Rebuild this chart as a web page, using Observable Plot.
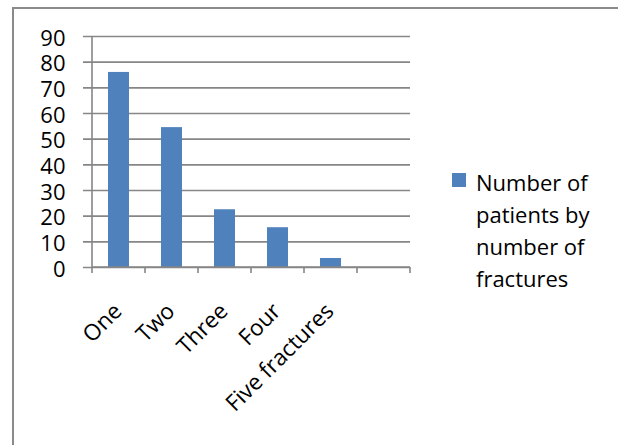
<!DOCTYPE html>
<html><head><meta charset="utf-8">
<script src="https://cdn.jsdelivr.net/npm/d3@7"></script>
<script src="https://cdn.jsdelivr.net/npm/@observablehq/plot@0.6"></script>
<style>
html,body{margin:0;padding:0;background:#fff;overflow:hidden;}
#wrap{position:relative;width:618px;height:445px;font-family:"Open Sans",sans-serif;overflow:hidden;}
#frame{position:absolute;left:12px;top:7px;width:800px;height:600px;border-left:2px solid #8a8a8a;border-top:2px solid #8a8a8a;}
#chart{position:absolute;left:0;top:0;}
#legend{position:absolute;left:452px;top:166px;font-size:22px;line-height:32px;color:#000;}
#legend .sw{position:absolute;left:0;top:7px;width:14px;height:14px;background:#4f81bd;}
#legend .tx{position:absolute;left:24px;top:0;white-space:nowrap;}
</style></head>
<body>
<div id="wrap"><div id="frame"></div><div id="chart"></div>
<div id="legend"><div class="sw"></div><div class="tx" id="legtext"></div></div></div>
<script>
const categories = ["One", "Two", "Three", "Four", "Five fractures", ""];
const patients = [76, 54.5, 22.5, 15.5, 3.5];
const yTicks = [0, 10, 20, 30, 40, 50, 60, 70, 80, 90];
const legendLines = ["Number of", "patients by", "number of", "fractures"];

const data = patients.map((v, i) => ({category: categories[i], value: v}));
const gray = "#868686";
const barColor = "#4f81bd";

document.getElementById("legtext").innerHTML = legendLines.join("<br>");

const axisLines = (index, scales, values, dims) => {
  const x = scales.x, y = scales.y;
  const step = x(categories[1]) - x(categories[0]);
  const xs = categories.map(c => x(c)).concat([x(categories[categories.length - 1]) + step]);
  const y0 = y(0), yTop = y(yTicks[yTicks.length - 1]);
  const g = d3.create("svg:g").attr("stroke", gray).attr("stroke-width", 1.6);
  xs.forEach(px => g.append("line").attr("x1", px).attr("x2", px).attr("y1", y0).attr("y2", y0 + 6));
  g.append("line").attr("x1", xs[0]).attr("x2", xs[0]).attr("y1", yTop).attr("y2", y0);
  g.append("line").attr("x1", xs[0]).attr("x2", xs[xs.length - 1]).attr("y1", y0).attr("y2", y0);
  return g.node();
};

const chart = Plot.plot({
  width: 618,
  height: 445,
  marginLeft: 92,
  marginRight: 208,
  marginTop: 36,
  marginBottom: 178,
  style: {fontFamily: "'Open Sans', sans-serif", color: "#000", background: "transparent", overflow: "visible"},
  x: {domain: categories, padding: 0, label: null},
  y: {domain: [0, 90], label: null},
  marks: [
    Plot.gridY(yTicks, {stroke: gray, strokeOpacity: 1, strokeWidth: 1.6, insetLeft: -9}),
    Plot.barY(data, {x: "category", y: "value", fill: barColor, insetLeft: 16, insetRight: 16}),
    axisLines,
    Plot.axisY({ticks: yTicks, tickSize: 0, tickPadding: 27, fontSize: 22, label: null, dy: 2}),
    Plot.axisX({tickSize: 0, tickRotate: -45, tickPadding: 40, fontSize: 22.5, label: null, dx: -1})
  ]
});
document.getElementById("chart").appendChild(chart);
</script>
</body></html>
